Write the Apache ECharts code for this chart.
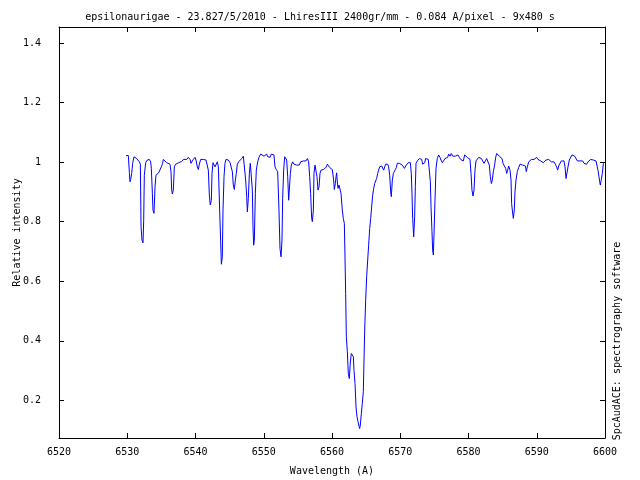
<!DOCTYPE html>
<html><head><meta charset="utf-8">
<script src="https://cdn.jsdelivr.net/npm/echarts@6/dist/echarts.min.js"></script>
<style>html,body{margin:0;padding:0;background:#fff}#c{width:640px;height:480px}</style>
</head><body><div id="c"></div>
<script>
const titleText = "epsilonaurigae - 23.827/5/2010 - LhiresIII 2400gr/mm - 0.084 A/pixel - 9x480 s";
const xLabel = "Wavelength (A)";
const yLabel = "Relative intensity";
const sideNote = "SpcAudACE: spectrography software";
const xRange = [6520, 6600];
const xStep = 10;
const yRange = [0.0734, 1.4538];
const yTicks = [0.2, 0.4, 0.6, 0.8, 1, 1.2, 1.4];
// [wavelength (A), relative intensity]
const spectrum = [
[6529.82,1.022],[6530.16,1.022],[6530.21,1.016],[6530.31,0.965],[6530.40,0.934],[6530.50,0.942],[6530.65,0.962],[6530.79,0.996],[6530.99,1.018],[6531.28,1.020],
[6531.38,1.012],[6531.58,1.007],[6531.77,1.001],[6531.92,0.993],[6532.02,0.783],[6532.16,0.738],[6532.31,0.729],[6532.41,0.805],[6532.50,0.956],[6532.70,0.998],
[6532.94,1.007],[6533.09,1.012],[6533.24,1.009],[6533.43,1.001],[6533.53,0.979],[6533.68,0.895],[6533.77,0.839],[6533.92,0.828],[6534.07,0.917],[6534.21,0.956],
[6534.41,0.962],[6534.60,0.964],[6534.80,0.968],[6534.99,0.984],[6535.19,0.996],[6535.29,1.009],[6535.53,1.004],[6535.78,0.998],[6536.02,0.996],[6536.26,0.993],
[6536.41,0.968],[6536.51,0.906],[6536.61,0.893],[6536.75,0.906],[6536.90,0.984],[6537.09,0.993],[6537.34,0.990],[6537.53,0.998],[6537.73,1.000],[6537.97,1.002],
[6538.22,1.009],[6538.46,1.004],[6538.71,1.009],[6538.95,1.016],[6539.20,1.009],[6539.34,0.996],[6539.54,1.000],[6539.68,1.009],[6539.93,1.016],[6540.07,1.007],
[6540.27,0.984],[6540.42,0.975],[6540.56,0.993],[6540.76,1.009],[6540.95,1.012],[6541.15,1.009],[6541.34,1.012],[6541.54,1.007],[6541.73,1.001],[6541.88,0.973],
[6542.03,0.889],[6542.17,0.856],[6542.32,0.872],[6542.42,0.962],[6542.56,0.998],[6542.76,0.993],[6542.86,0.984],[6543.00,0.990],[6543.20,1.001],[6543.35,0.984],
[6543.54,0.839],[6543.69,0.732],[6543.79,0.657],[6543.93,0.682],[6544.03,0.839],[6544.18,0.951],[6544.32,0.996],[6544.47,1.009],[6544.66,1.012],[6544.81,1.007],
[6545.06,0.998],[6545.25,0.993],[6545.40,0.968],[6545.54,0.923],[6545.69,0.908],[6545.84,0.940],[6545.98,0.962],[6546.13,0.993],[6546.33,1.001],
[6546.52,1.007],[6546.76,1.012],[6547.01,1.020],[6547.25,1.024],[6547.35,0.940],[6547.50,0.884],[6547.60,0.833],[6547.74,0.878],[6547.89,0.962],[6548.03,0.996],
[6548.23,0.998],[6548.33,0.906],[6548.42,0.788],[6548.52,0.721],[6548.62,0.738],[6548.77,0.895],[6548.91,0.973],[6549.11,1.001],[6549.30,1.016],[6549.55,1.027],
[6549.79,1.029],[6550.04,1.020],[6550.18,1.024],[6550.43,1.027],[6550.57,1.018],[6550.77,1.024],[6550.92,1.016],[6551.11,1.027],[6551.31,1.031],[6551.50,1.024],
[6551.65,0.984],[6551.84,0.975],[6552.04,0.968],[6552.23,0.839],[6552.38,0.710],[6552.53,0.682],[6552.67,0.738],[6552.77,0.878],[6552.92,0.973],[6553.07,1.018],
[6553.21,1.024],[6553.36,1.007],[6553.51,0.951],[6553.65,0.872],[6553.80,0.878],[6553.90,0.962],[6554.04,0.990],[6554.24,1.001],[6554.43,0.993],[6554.63,0.998],
[6554.82,0.990],[6555.02,0.996],[6555.21,0.990],[6555.41,1.001],[6555.60,0.998],[6555.80,1.004],[6555.99,1.009],[6556.19,1.004],[6556.39,1.012],[6556.58,1.001],
[6556.73,0.951],[6556.87,0.895],[6557.02,0.811],[6557.12,0.800],[6557.27,0.839],[6557.36,0.962],[6557.51,0.990],[6557.66,0.984],[6557.80,0.951],[6557.95,0.906],
[6558.10,0.917],[6558.24,0.962],[6558.39,0.973],[6558.58,0.970],[6558.78,0.975],[6558.97,0.975],[6559.17,0.984],[6559.32,0.993],[6559.46,0.990],[6559.66,0.982],
[6559.85,0.984],[6560.05,0.975],[6560.24,0.940],[6560.34,0.908],[6560.49,0.928],[6560.59,0.951],[6560.68,0.964],[6560.78,0.934],[6560.88,0.912],[6561.03,0.923],
[6561.17,0.923],[6561.32,0.895],[6561.51,0.839],[6561.66,0.810],[6561.81,0.794],[6561.90,0.688],[6562.00,0.559],[6562.10,0.413],[6562.25,0.363],[6562.39,0.290],
[6562.54,0.273],[6562.69,0.329],[6562.83,0.357],[6562.98,0.363],[6563.13,0.346],[6563.22,0.301],[6563.37,0.257],[6563.52,0.178],[6563.66,0.145],[6563.81,0.128],
[6563.96,0.113],[6564.05,0.105],[6564.15,0.117],[6564.30,0.156],[6564.44,0.189],[6564.59,0.229],[6564.69,0.335],[6564.79,0.436],[6564.93,0.536],[6565.08,0.615],
[6565.23,0.671],[6565.37,0.721],[6565.52,0.777],[6565.67,0.811],[6565.81,0.850],[6565.96,0.889],[6566.11,0.912],[6566.25,0.928],[6566.40,0.934],[6566.54,0.945],
[6566.69,0.962],[6566.84,0.973],[6566.98,0.984],[6567.13,0.990],[6567.28,0.987],[6567.42,0.990],[6567.57,0.973],[6567.72,0.984],[6567.86,0.993],[6568.01,0.996],
[6568.16,0.993],[6568.30,0.984],[6568.45,0.956],[6568.60,0.900],[6568.69,0.884],[6568.84,0.940],[6568.99,0.962],[6569.13,0.962],[6569.28,0.975],[6569.43,0.982],
[6569.57,0.996],[6569.72,1.001],[6569.87,0.996],[6570.01,1.001],[6570.16,0.998],[6570.31,0.990],[6570.45,0.984],[6570.60,0.979],[6570.75,0.984],[6570.89,0.990],
[6571.04,0.996],[6571.18,0.998],[6571.33,0.998],[6571.48,0.998],[6571.62,0.962],[6571.72,0.895],[6571.82,0.811],[6571.97,0.749],[6572.11,0.816],[6572.21,0.917],
[6572.31,0.996],[6572.50,1.004],[6572.65,1.004],[6572.80,1.012],[6572.99,1.016],[6573.14,1.009],[6573.28,0.993],[6573.43,0.987],[6573.58,0.998],[6573.72,1.012],
[6573.92,1.012],[6574.11,1.009],[6574.31,1.012],[6574.41,0.934],[6574.51,0.850],[6574.65,0.766],[6574.75,0.704],[6574.85,0.688],[6574.95,0.760],[6575.09,0.872],
[6575.24,0.979],[6575.43,1.012],[6575.63,1.024],[6575.82,1.016],[6575.97,1.007],[6576.17,0.998],[6576.36,1.004],[6576.56,1.012],[6576.75,1.018],[6576.95,1.016],
[6577.09,1.027],[6577.29,1.020],[6577.48,1.029],[6577.68,1.020],[6577.87,1.018],[6578.07,1.020],[6578.27,1.016],[6578.46,1.024],[6578.66,1.016],[6578.85,1.009],
[6579.05,1.007],[6579.24,1.004],[6579.44,1.024],[6579.63,1.027],[6579.83,1.016],[6580.02,1.012],[6580.22,1.009],[6580.37,0.962],[6580.51,0.906],[6580.66,0.886],
[6580.81,0.906],[6580.95,0.973],[6581.10,1.004],[6581.29,1.009],[6581.49,1.016],[6581.68,1.018],[6581.88,1.012],[6582.08,1.004],[6582.27,0.996],[6582.47,1.004],
[6582.66,1.012],[6582.86,1.009],[6583.05,0.990],[6583.20,0.951],[6583.35,0.928],[6583.49,0.940],[6583.64,0.968],[6583.83,0.990],[6583.98,1.016],[6584.13,1.029],
[6584.32,1.024],[6584.52,1.020],[6584.71,1.018],[6584.91,1.012],[6585.06,0.996],[6585.25,0.987],[6585.45,0.979],[6585.59,0.962],[6585.74,0.973],[6585.89,0.987],
[6586.08,0.973],[6586.23,0.940],[6586.32,0.861],[6586.42,0.839],[6586.57,0.811],[6586.71,0.839],[6586.81,0.900],[6586.96,0.940],[6587.15,0.968],[6587.35,0.982],
[6587.55,0.993],[6587.74,0.987],[6587.94,0.990],[6588.13,0.993],[6588.33,0.987],[6588.47,0.968],[6588.62,0.984],[6588.82,1.001],[6589.01,1.007],[6589.21,1.009],
[6589.40,1.012],[6589.60,1.009],[6589.79,1.012],[6589.99,1.016],[6590.18,1.009],[6590.38,1.012],[6590.57,1.004],[6590.77,1.007],[6590.96,0.998],[6591.16,1.001],
[6591.35,1.007],[6591.55,1.004],[6591.75,1.009],[6591.94,1.004],[6592.14,1.001],[6592.33,0.998],[6592.53,1.001],[6592.72,0.993],[6592.92,0.984],[6593.06,0.973],
[6593.21,0.987],[6593.41,0.993],[6593.60,1.004],[6593.80,1.009],[6593.99,1.004],[6594.14,0.984],[6594.29,0.945],[6594.43,0.949],[6594.58,0.984],[6594.77,1.007],
[6594.97,1.012],[6595.16,1.024],[6595.36,1.024],[6595.56,1.020],[6595.75,1.018],[6595.95,1.004],[6596.14,1.007],[6596.34,1.004],[6596.53,1.001],[6596.73,1.004],
[6596.92,0.996],[6597.12,1.001],[6597.31,0.993],[6597.51,1.001],[6597.70,1.004],[6597.90,1.009],[6598.10,1.012],[6598.29,1.007],[6598.49,1.009],[6598.68,1.004],
[6598.83,0.998],[6598.97,0.973],[6599.12,0.951],[6599.22,0.934],[6599.32,0.923],[6599.46,0.942],[6599.61,0.962],[6599.76,0.996],[6599.85,0.998]
];

const font = "'DejaVu Sans Mono', monospace";
const ink = '#000000';
const txt = { fontFamily: font, fontSize: 10, color: ink };

const chart = echarts.init(document.getElementById('c'), null, { renderer: 'canvas' });

function xAxisDef(pos, labels) {
  return {
    type: 'value', position: pos, min: xRange[0], max: xRange[1], interval: xStep,
    axisLine: { show: true, onZero: false, lineStyle: { color: ink, width: 1 } },
    axisTick: { show: true, inside: true, length: 5, lineStyle: { color: ink, width: 1 } },
    axisLabel: Object.assign({ show: labels, margin: 9, formatter: v => String(v) }, txt),
    splitLine: { show: false },
    name: labels ? xLabel : '', nameLocation: 'middle', nameGap: 28,
    nameMoveOverlap: false,
    nameTextStyle: txt
  };
}
function yAxisDef(pos, labels) {
  return {
    type: 'value', position: pos, min: yRange[0], max: yRange[1],
    axisLine: { show: true, onZero: false, lineStyle: { color: ink, width: 1 } },
    axisTick: { show: true, inside: true, length: 5, customValues: yTicks, lineStyle: { color: ink, width: 1 } },
    axisLabel: Object.assign({ show: labels, margin: 18, customValues: yTicks, formatter: v => String(v) }, txt),
    splitLine: { show: false },
    name: labels ? yLabel : '', nameLocation: 'middle', nameGap: 37,
    nameMoveOverlap: false,
    nameTextStyle: txt
  };
}

chart.setOption({
  animation: false,
  backgroundColor: '#ffffff',
  title: {
    text: titleText, left: 'center', top: 7,
    textStyle: { fontFamily: font, fontSize: 10, fontWeight: 'normal', color: ink }
  },
  grid: { left: 59, right: 35, top: 27, bottom: 42, containLabel: false, outerBoundsMode: 'none' },
  xAxis: [xAxisDef('bottom', true), xAxisDef('top', false)],
  yAxis: [yAxisDef('left', true), yAxisDef('right', false)],
  series: [{
    type: 'line', data: spectrum, xAxisIndex: 0, yAxisIndex: 0,
    showSymbol: false, symbol: 'none',
    lineStyle: { color: '#0000ff', width: 1 },
    itemStyle: { color: '#0000ff' }
  }],
  graphic: [{
    type: 'text', x: 617, y: 341, rotation: Math.PI / 2,
    style: { text: sideNote, fontFamily: font, fontSize: 10, fill: ink, align: 'center', verticalAlign: 'middle' }
  }]
});
</script>
</body></html>
